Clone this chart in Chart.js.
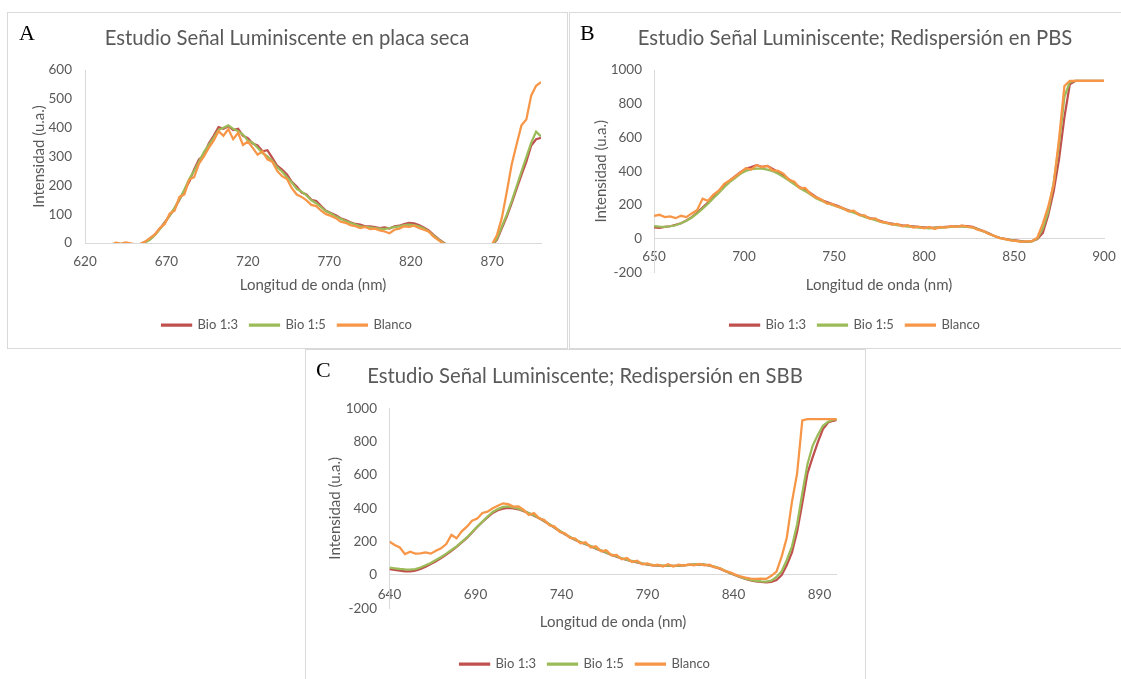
<!DOCTYPE html>
<html>
<head>
<meta charset="utf-8">
<script src="https://cdn.jsdelivr.net/npm/chart.js@4.4.0/dist/chart.umd.min.js"></script>
<style>
html,body{margin:0;padding:0;background:#fff;overflow:hidden;width:1121px;height:679px;}
.frame{position:absolute;border:1px solid #d9d9d9;box-sizing:border-box;}
canvas{position:absolute;}
.letter{position:absolute;font-family:'Liberation Serif','Times New Roman',serif;font-size:22px;line-height:22px;color:#000;}
</style>
</head>
<body>
<div class="frame" style="left:7px;top:12px;width:561px;height:337px"></div>
<div class="frame" style="left:569px;top:12px;width:600px;height:337px"></div>
<div class="frame" style="left:305px;top:349px;width:561px;height:400px"></div>
<canvas id="cA" width="560" height="336" style="left:7px;top:12px"></canvas>
<canvas id="cB" width="572" height="336" style="left:569px;top:12px"></canvas>
<canvas id="cC" width="560" height="340" style="left:305px;top:349px"></canvas>
<div class="letter" style="left:19px;top:22px">A</div>
<div class="letter" style="left:580px;top:22px">B</div>
<div class="letter" style="left:316px;top:359px">C</div>
<script>
// ---------- DATA ----------
const seriesNames = ['Bio 1:3', 'Bio 1:5', 'Blanco'];
const titleA = 'Estudio Señal Luminiscente en placa seca';
const titleB = 'Estudio Señal Luminiscente; Redispersión en PBS';
const titleC = 'Estudio Señal Luminiscente; Redispersión en SBB';
const xAxisTitle = 'Longitud de onda (nm)';
const yAxisTitle = 'Intensidad (u.a.)';

// Panel A
const xA = [630,633,636,639,642,645,648,651,654,657,
            660,663,666,669,672,675,678,681,684,687,
            690,693,696,699,702,705,708,711,714,717,
            720,723,726,729,732,735,738,741,744,747,
            750,753,756,759,762,765,768,771,774,777,
            780,783,786,789,792,795,798,801,804,807,
            810,813,816,819,822,825,828,831,834,837,
            840,843,846,849,852,855,858,861,864,867,
            870,873,876,879,882,885,888,891,894,897,
            900];
const bio13A = [-45,-40,-36,-30,-27,-22,-16,-10,-4,4,
            15,30,50,72,95,120,150,182,212,255,
            290,305,345,372,402,396,405,392,396,372,
            364,345,338,318,322,295,268,255,238,212,
            196,175,168,150,146,128,112,104,96,86,
            80,72,66,64,58,58,55,52,54,50,
            58,60,66,70,68,62,54,44,28,14,
            2,-10,-20,-26,-30,-34,-35,-33,-28,-18,
            -8,12,52,92,138,188,236,282,338,360,
            365];
const bio15A = [-42,-38,-34,-30,-26,-21,-15,-10,-6,2,
            12,28,48,70,96,122,152,185,222,250,
            282,315,340,365,392,400,408,396,388,376,
            355,348,330,312,300,285,262,248,228,210,
            188,178,165,148,138,124,110,102,92,84,
            76,70,64,58,56,54,52,50,48,52,
            55,58,62,64,62,58,50,40,26,12,
            0,-12,-22,-28,-32,-34,-36,-33,-27,-17,
            -6,16,58,98,145,196,248,298,348,386,
            370];
const blancoA = [-15,-10,-6,1,-2,2,-1,-5,-3,5,
            18,30,52,66,102,112,160,168,220,228,
            275,300,330,355,388,372,395,360,382,340,
            352,330,306,318,290,282,250,232,222,190,
            168,160,148,132,128,112,100,94,86,74,
            70,62,58,52,56,48,50,44,40,34,
            46,50,58,56,60,52,46,40,22,10,
            -2,-12,-22,-28,-32,-34,-34,-30,-24,-14,
            -4,28,88,178,272,342,408,428,512,545,
            558];
const xTicksA = [620,670,720,770,820,870];
const yTicksA = [0,100,200,300,400,500,600];

// Panel B
const xB = [650,653,656,659,662,665,668,671,674,677,
            680,683,686,689,692,695,698,701,704,707,
            710,713,716,719,722,725,728,731,734,737,
            740,743,746,749,752,755,758,761,764,767,
            770,773,776,779,782,785,788,791,794,797,
            800,803,806,809,812,815,818,821,824,827,
            830,833,836,839,842,845,848,851,854,857,
            860,863,866,869,872,875,878,881,884,887,
            890,893,896,899,900];
const bio13B = [68,65,70,74,82,92,108,128,155,185,
            215,248,282,312,345,370,395,415,425,436,
            426,432,414,395,375,352,330,305,292,270,
            248,230,218,205,195,180,168,160,145,132,
            122,115,105,95,90,85,80,76,74,70,
            68,64,66,68,70,72,74,76,75,70,
            58,45,32,16,6,0,-6,-10,-14,-18,
            -14,-2,35,140,280,470,720,915,935,935,
            935,935,935,935,935];
const bio15B = [75,72,70,74,80,92,106,126,150,178,
            208,240,272,305,335,360,385,402,412,416,
            415,410,400,385,365,345,322,300,282,262,
            240,225,212,200,190,178,165,155,142,130,
            120,110,100,92,86,80,76,72,70,66,
            64,62,64,66,68,70,72,72,70,66,
            56,44,30,16,6,-2,-8,-12,-16,-17,
            -15,2,60,160,330,560,840,930,935,935,
            935,935,935,935,935];
const blancoB = [135,142,128,132,122,136,128,150,170,238,
            225,262,285,325,345,368,392,418,410,436,
            425,432,405,402,385,350,338,300,302,265,
            245,232,210,205,190,182,162,166,140,138,
            118,120,100,96,84,88,74,80,66,72,
            62,70,58,70,66,74,70,78,72,68,
            52,46,28,18,4,-2,-10,-12,-18,-16,
            -14,8,90,190,320,590,905,935,935,935,
            935,935,935,935,935];
const xTicksB = [650,700,750,800,850,900];
const yTicksB = [-200,0,200,400,600,800,1000];

// Panel C
const xC = [640,643,646,649,652,655,658,661,664,667,
            670,673,676,679,682,685,688,691,694,697,
            700,703,706,709,712,715,718,721,724,727,
            730,733,736,739,742,745,748,751,754,757,
            760,763,766,769,772,775,778,781,784,787,
            790,793,796,799,802,805,808,811,814,817,
            820,823,826,829,832,835,838,841,844,847,
            850,853,856,859,862,865,868,871,874,877,
            880,883,886,889,892,895,898,900];
const bio13C = [35,30,26,22,22,26,36,50,66,82,
            102,122,145,168,195,222,255,288,318,345,
            372,388,398,402,400,394,382,370,356,340,
            322,303,283,262,244,226,210,196,184,172,
            158,146,133,120,110,99,90,82,76,68,
            62,58,56,54,54,54,55,57,60,62,
            64,62,56,48,38,24,10,-2,-14,-24,
            -32,-38,-42,-44,-42,-30,0,60,135,260,
            430,610,705,795,875,915,925,930];
const bio15C = [44,40,36,33,32,35,45,58,72,90,
            108,128,150,172,198,225,258,290,320,350,
            378,395,408,412,405,398,385,372,358,342,
            325,305,285,265,245,228,212,198,186,174,
            160,148,135,122,112,100,92,84,78,70,
            64,60,58,56,56,55,56,58,60,63,
            65,62,58,50,40,26,12,0,-12,-22,
            -30,-35,-38,-40,-34,-12,22,90,172,305,
            490,665,775,840,895,920,932,935];
const blancoC = [200,180,165,125,140,128,130,135,128,145,
            160,185,240,220,262,290,325,338,372,380,
            400,415,430,425,410,412,390,360,372,340,
            330,298,290,258,250,222,218,190,196,165,
            172,142,148,118,120,94,102,78,86,64,
            70,56,62,50,64,50,62,56,64,58,
            66,58,62,46,42,24,16,2,-8,-16,
            -22,-24,-22,-24,-5,20,110,225,440,610,
            928,935,935,935,935,935,935,935];
const xTicksC = [640,690,740,790,840,890];
const yTicksC = [-200,0,200,400,600,800,1000];

// ---------- STYLE / BUILD ----------
const GRAY = '#595959';
const AXIS = '#d9d9d9';
const COLORS = ['#C0504D', '#9BBB59', '#F79646'];
Chart.defaults.font.family = "Lato, 'Open Sans', sans-serif";
Chart.defaults.color = GRAY;

function build(id, xs, series, xr, yr, g, titleText) {
  const datasets = series.map((vals, k) => ({
    label: seriesNames[k],
    data: xs.map((x, i) => ({x: x, y: vals[i]})),
    borderColor: COLORS[k],
    backgroundColor: COLORS[k],
    borderWidth: 2.25,
    pointRadius: 0,
    pointHoverRadius: 0,
    tension: 0,
    fill: false,
    order: 3 - k
  }));
  return new Chart(document.getElementById(id), {
    type: 'line',
    data: {datasets: datasets},
    options: {
      responsive: false,
      animation: false,
      events: [],
      layout: {padding: {left: 0, right: 0, top: 0, bottom: g.padBottom}},
      plugins: {
        title: {display: true, text: titleText, color: GRAY,
                font: {size: 20.3, weight: 'normal'},
                padding: {top: g.titleTop, bottom: g.titleBottom}},
        legend: {display: true, position: 'bottom',
                 title: {display: true, text: '', font: {size: 1}, padding: {top: g.legendGap, bottom: 0}},
                 labels: {boxWidth: 29, boxHeight: 1, padding: 12, color: GRAY,
                          font: {size: 13},
                          sort: (a, b) => a.datasetIndex - b.datasetIndex}},
        tooltip: {enabled: false}
      },
      scales: {
        x: {
          type: 'linear', position: {y: 0}, min: xr.min, max: xr.max,
          afterBuildTicks: s => { s.ticks = xr.ticks.map(v => ({value: v})); },
          afterFit: s => { s.height = 60; s.paddingLeft = 0; s.paddingRight = g.rightGap; },
          grid: {display: false, drawTicks: false},
          border: {display: true, color: AXIS, width: 1},
          ticks: {padding: g.xTickPad, color: GRAY, font: {size: 13.5}, maxRotation: 0, autoSkip: false,
                  callback: v => String(v)},
          title: {display: true, text: xAxisTitle, color: GRAY, font: {size: 15},
                  padding: {top: 0, bottom: g.xTitlePad}}
        },
        y: {
          type: 'linear', position: 'left', min: yr.min, max: yr.max,
          afterBuildTicks: s => { s.ticks = yr.ticks.map(v => ({value: v})); },
          afterFit: s => { s.width = g.yW; },
          grid: {display: false, drawTicks: false},
          border: {display: true, color: AXIS, width: 1},
          ticks: {padding: g.yTickPad, color: GRAY, font: {size: 13.5}, callback: v => String(v)},
          title: {display: true, text: yAxisTitle, color: GRAY, font: {size: 15},
                  padding: {top: g.yTitlePad, bottom: 0}}
        }
      }
    }
  });
}

build('cA', xA, [bio13A, bio15A, blancoA],
  {min: 620, max: 900, ticks: xTicksA}, {min: 0, max: 600, ticks: yTicksA},
  {padBottom: 6.5, titleTop: 13.8, titleBottom: 19.84, legendGap: 62.3, rightGap: 26,
   xTickPad: 10.6, xTitlePad: 9, yW: 78, yTickPad: 13, yTitlePad: 22.8}, titleA);

build('cB', xB, [bio13B, bio15B, blancoB],
  {min: 650, max: 900, ticks: xTicksB}, {min: -200, max: 1000, ticks: yTicksB},
  {padBottom: 6.5, titleTop: 13.8, titleBottom: 19.84, legendGap: 32.8, rightGap: 37,
   xTickPad: 9.6, xTitlePad: 5, yW: 85, yTickPad: 12, yTitlePad: 23}, titleB);

build('cC', xC, [bio13C, bio15C, blancoC],
  {min: 640, max: 900, ticks: xTicksC}, {min: -200, max: 1000, ticks: yTicksC},
  {padBottom: 8.5, titleTop: 15.5, titleBottom: 19.44, legendGap: 36, rightGap: 28.3,
   xTickPad: 11.4, xTitlePad: 3.5, yW: 84.5, yTickPad: 12.5, yTitlePad: 21.5}, titleC);
</script>
</body>
</html>
